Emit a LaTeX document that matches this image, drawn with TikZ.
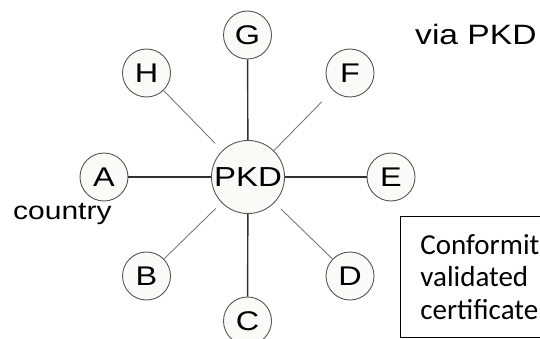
\documentclass[tikz,border=0pt]{standalone}
\usepackage{fontspec}
\setmainfont{Liberation Sans}
\newfontfamily\widesans[FakeStretch=1.2]{Liberation Sans}
\newfontfamily\notefont{Carlito}
\usetikzlibrary{positioning}
\definecolor{ringgray}{HTML}{555555}
\definecolor{discfill}{HTML}{FAFAF6}
\definecolor{spokedark}{HTML}{303030}
\definecolor{spokelight}{HTML}{7A7A7A}
\tikzset{
    hub/.style={circle, draw=ringgray, fill=discfill, line width=0.9pt, minimum size=73pt, inner sep=0pt, font=\widesans\fontsize{27.5}{27.5}\selectfont},
    member/.style={circle, draw=ringgray, fill=discfill, line width=0.9pt, minimum size=48pt, inner sep=0pt, font=\widesans\fontsize{27}{27}\selectfont},
    spoke/.style={draw=spokedark, line width=1.4pt},
    diag/.style={draw=spokelight, line width=0.9pt},
    plaintext/.style={inner sep=0pt, font=\widesans\fontsize{25}{25}\selectfont},
    notebox/.style={rectangle, draw=black, line width=0.8pt, text width=180pt, inner xsep=20pt, inner ysep=0pt, minimum height=121.5pt, align=left, font=\notefont\fontsize{29}{32.5}\selectfont}
}

\begin{document}
\begin{tikzpicture}[x=1pt, y=-1pt]
    \clip (0,0) rectangle (540,339);
    \node[hub] (pkd) at (248,177) {PKD};
    \node[member] (g) at (247.5,35) {G}
      edge[spoke] (pkd);
    \node[member] (c) at (247.5,321) {C}
      edge[spoke] (pkd);
    \node[member] (a) at (104,177) {A}
      edge[spoke] (pkd);
    \node[member] (e) at (391,177) {E}
      edge[spoke, line width=2pt] (pkd);
    \node[member] (h) at (146.5,73) {H}
      edge[diag, shorten >=10pt] (pkd);
    \node[member] (f) at (350,73) {F}
      edge[diag, shorten <=16pt] (pkd);
    \node[member] (b) at (146.5,276) {B}
      edge[diag, shorten >=8pt] (pkd);
    \node[member] (d) at (350,276) {D}
      edge[diag, shorten >=9pt] (pkd);

    \node[plaintext, anchor=base west] (country) at (13,219) {country};
    \node[plaintext, anchor=base west, font=\widesans\fontsize{28}{28}\selectfont] (via) at (415,45) {via PKD};

    \node[notebox, anchor=north west] (note) at (400,215.5)
      {Conformit\\validated\\certificate};
\end{tikzpicture}
\end{document}
